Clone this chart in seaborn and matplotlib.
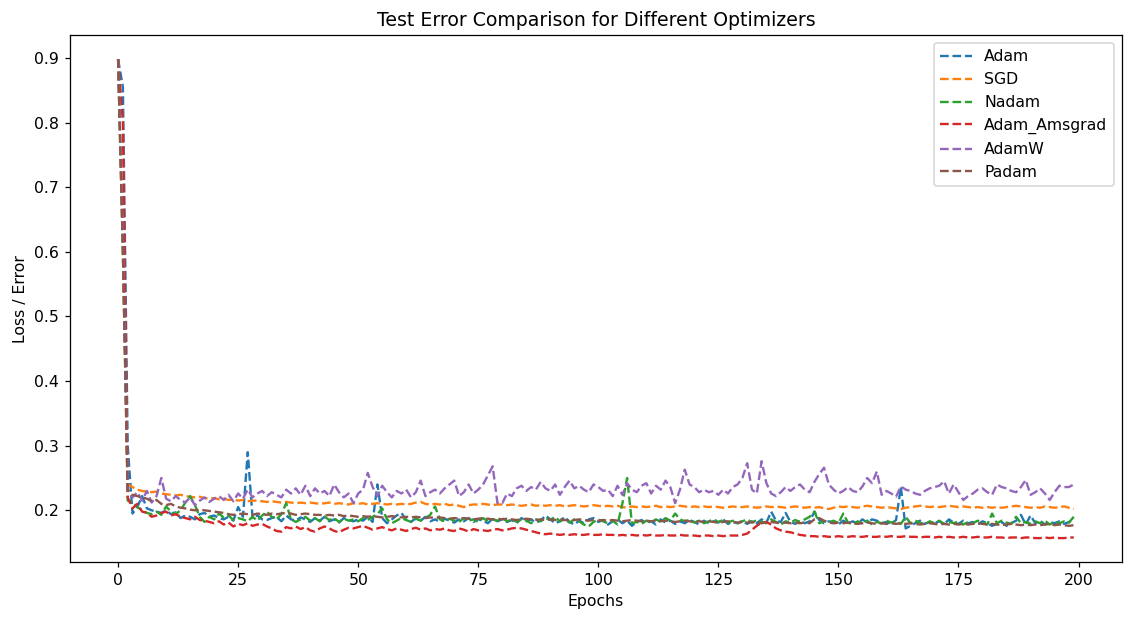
import numpy as np
import pandas as pd
import matplotlib
matplotlib.use("Agg")
import matplotlib.pyplot as plt
import seaborn as sns

epochs = list(range(200))

adam = [
    0.898, 0.855, 0.300, 0.195, 0.205, 0.222, 0.203, 0.200, 0.198, 0.196,
    0.200, 0.194, 0.197, 0.188, 0.192, 0.190, 0.186, 0.194, 0.196, 0.190,
    0.192, 0.188, 0.186, 0.190, 0.184, 0.205, 0.190, 0.290, 0.188, 0.192,
    0.186, 0.185, 0.188, 0.190, 0.183, 0.192, 0.186, 0.184, 0.189, 0.186,
    0.182, 0.188, 0.184, 0.190, 0.183, 0.186, 0.181, 0.188, 0.185, 0.183,
    0.186, 0.184, 0.190, 0.182, 0.240, 0.188, 0.180, 0.186, 0.192, 0.196,
    0.185, 0.182, 0.188, 0.184, 0.190, 0.183, 0.186, 0.182, 0.187, 0.184,
    0.181, 0.186, 0.183, 0.188, 0.182, 0.186, 0.184, 0.180, 0.187, 0.183,
    0.186, 0.182, 0.185, 0.180, 0.188, 0.183, 0.186, 0.181, 0.184, 0.192,
    0.186, 0.180, 0.183, 0.190, 0.182, 0.178, 0.184, 0.180, 0.186, 0.188,
    0.182, 0.185, 0.178, 0.183, 0.186, 0.180, 0.184, 0.176, 0.182, 0.185,
    0.180, 0.183, 0.178, 0.186, 0.181, 0.184, 0.179, 0.183, 0.180, 0.185,
    0.182, 0.178, 0.184, 0.180, 0.183, 0.181, 0.186, 0.179, 0.182, 0.180,
    0.184, 0.179, 0.183, 0.180, 0.186, 0.181, 0.198, 0.184, 0.182, 0.196,
    0.182, 0.179, 0.184, 0.180, 0.183, 0.198, 0.185, 0.180, 0.183, 0.181,
    0.178, 0.184, 0.180, 0.183, 0.179, 0.186, 0.181, 0.186, 0.184, 0.180,
    0.182, 0.179, 0.185, 0.236, 0.172, 0.176, 0.180, 0.184, 0.179, 0.182,
    0.180, 0.183, 0.178, 0.186, 0.181, 0.179, 0.184, 0.180, 0.182, 0.178,
    0.183, 0.180, 0.176, 0.179, 0.182, 0.176, 0.180, 0.184, 0.193, 0.178,
    0.192, 0.180, 0.184, 0.178, 0.182, 0.180, 0.183, 0.179, 0.182, 0.185,
]

sgd = [
    0.898, 0.600, 0.240, 0.236, 0.232, 0.230, 0.229, 0.228, 0.229, 0.226,
    0.225, 0.224, 0.223, 0.224, 0.222, 0.221, 0.220, 0.221, 0.219, 0.218,
    0.219, 0.217, 0.218, 0.216, 0.217, 0.215, 0.216, 0.214, 0.215, 0.215,
    0.214, 0.213, 0.214, 0.213, 0.212, 0.213, 0.212, 0.211, 0.212, 0.211,
    0.212, 0.211, 0.210, 0.211, 0.212, 0.210, 0.211, 0.210, 0.209, 0.211,
    0.210, 0.211, 0.209, 0.210, 0.211, 0.210, 0.209, 0.210, 0.209, 0.210,
    0.209, 0.210, 0.212, 0.213, 0.210, 0.209, 0.210, 0.209, 0.210, 0.208,
    0.209, 0.207, 0.205, 0.208, 0.209, 0.209, 0.210, 0.209, 0.208, 0.209,
    0.209, 0.208, 0.209, 0.208, 0.207, 0.208, 0.209, 0.207, 0.208, 0.207,
    0.208, 0.207, 0.208, 0.206, 0.207, 0.208, 0.207, 0.206, 0.207, 0.208,
    0.207, 0.206, 0.207, 0.206, 0.207, 0.205, 0.204, 0.206, 0.205, 0.206,
    0.205, 0.206, 0.207, 0.205, 0.206, 0.205, 0.206, 0.207, 0.206, 0.205,
    0.206, 0.205, 0.206, 0.205, 0.206, 0.205, 0.204, 0.205, 0.206, 0.205,
    0.205, 0.206, 0.205, 0.204, 0.205, 0.206, 0.205, 0.206, 0.205, 0.204,
    0.205, 0.206, 0.205, 0.204, 0.205, 0.204, 0.205, 0.203, 0.202, 0.204,
    0.206, 0.205, 0.206, 0.205, 0.204, 0.206, 0.207, 0.206, 0.205, 0.204,
    0.205, 0.204, 0.203, 0.202, 0.204, 0.205, 0.206, 0.207, 0.206, 0.205,
    0.206, 0.205, 0.206, 0.207, 0.206, 0.205, 0.206, 0.205, 0.204, 0.205,
    0.204, 0.205, 0.204, 0.205, 0.204, 0.205, 0.206, 0.207, 0.206, 0.205,
    0.204, 0.205, 0.204, 0.206, 0.205, 0.204, 0.205, 0.206, 0.204, 0.202,
]

nadam = [
    0.898, 0.600, 0.215, 0.212, 0.205, 0.200, 0.196, 0.194, 0.198, 0.193,
    0.206, 0.198, 0.194, 0.200, 0.212, 0.222, 0.208, 0.190, 0.182, 0.190,
    0.186, 0.195, 0.189, 0.192, 0.185, 0.188, 0.186, 0.183, 0.190, 0.184,
    0.192, 0.198, 0.190, 0.186, 0.194, 0.211, 0.186, 0.182, 0.186, 0.190,
    0.184, 0.188, 0.183, 0.190, 0.185, 0.188, 0.182, 0.187, 0.184, 0.186,
    0.183, 0.188, 0.185, 0.190, 0.194, 0.203, 0.186, 0.180, 0.184, 0.188,
    0.185, 0.182, 0.187, 0.184, 0.188, 0.193, 0.206, 0.186, 0.183, 0.187,
    0.184, 0.182, 0.188, 0.184, 0.186, 0.182, 0.188, 0.183, 0.186, 0.184,
    0.188, 0.183, 0.186, 0.182, 0.186, 0.184, 0.180, 0.186, 0.183, 0.188,
    0.185, 0.190, 0.183, 0.186, 0.181, 0.186, 0.183, 0.178, 0.175, 0.182,
    0.186, 0.183, 0.180, 0.184, 0.178, 0.210, 0.250, 0.180, 0.182, 0.179,
    0.184, 0.181, 0.186, 0.182, 0.188, 0.184, 0.195, 0.186, 0.183, 0.185,
    0.181, 0.184, 0.180, 0.183, 0.186, 0.182, 0.185, 0.181, 0.184, 0.180,
    0.183, 0.186, 0.181, 0.185, 0.182, 0.180, 0.186, 0.182, 0.178, 0.183,
    0.181, 0.185, 0.182, 0.186, 0.190, 0.198, 0.180, 0.183, 0.181, 0.184,
    0.180, 0.195, 0.181, 0.178, 0.183, 0.180, 0.184, 0.178, 0.182, 0.180,
    0.184, 0.181, 0.183, 0.179, 0.190, 0.180, 0.184, 0.181, 0.178, 0.183,
    0.180, 0.184, 0.179, 0.182, 0.180, 0.183, 0.178, 0.182, 0.180, 0.184,
    0.181, 0.178, 0.195, 0.180, 0.184, 0.181, 0.179, 0.190, 0.180, 0.182,
    0.179, 0.183, 0.180, 0.184, 0.178, 0.182, 0.180, 0.183, 0.181, 0.190,
]

amsgrad = [
    0.898, 0.800, 0.220, 0.203, 0.210, 0.198, 0.196, 0.190, 0.192, 0.196,
    0.198, 0.192, 0.194, 0.190, 0.188, 0.186, 0.190, 0.185, 0.184, 0.182,
    0.180, 0.183, 0.178, 0.181, 0.175, 0.179, 0.177, 0.180, 0.176, 0.178,
    0.179, 0.175, 0.172, 0.168, 0.167, 0.174, 0.172, 0.175, 0.171, 0.174,
    0.169, 0.167, 0.172, 0.175, 0.172, 0.168, 0.166, 0.170, 0.173, 0.172,
    0.174, 0.176, 0.173, 0.170, 0.172, 0.174, 0.171, 0.169, 0.172, 0.170,
    0.168, 0.171, 0.173, 0.170, 0.172, 0.169, 0.171, 0.170, 0.172, 0.169,
    0.168, 0.172, 0.170, 0.167, 0.171, 0.169, 0.169, 0.168, 0.170, 0.171,
    0.169, 0.170, 0.172, 0.173, 0.172, 0.170, 0.168, 0.166, 0.164, 0.163,
    0.164, 0.163, 0.162, 0.163, 0.162, 0.163, 0.162, 0.162, 0.163, 0.162,
    0.162, 0.163, 0.162, 0.162, 0.161, 0.162, 0.161, 0.162, 0.161, 0.162,
    0.161, 0.162, 0.161, 0.161, 0.162, 0.161, 0.161, 0.162, 0.161, 0.161,
    0.161, 0.160, 0.161, 0.161, 0.160, 0.161, 0.160, 0.161, 0.161, 0.161,
    0.162, 0.164, 0.170, 0.176, 0.181, 0.182, 0.178, 0.172, 0.169, 0.167,
    0.166, 0.164, 0.162, 0.161, 0.160, 0.160, 0.159, 0.160, 0.159, 0.159,
    0.160, 0.159, 0.159, 0.160, 0.159, 0.159, 0.160, 0.159, 0.159, 0.160,
    0.159, 0.160, 0.159, 0.159, 0.160, 0.159, 0.159, 0.158, 0.159, 0.159,
    0.158, 0.159, 0.158, 0.159, 0.158, 0.158, 0.159, 0.158, 0.158, 0.159,
    0.158, 0.158, 0.159, 0.158, 0.158, 0.157, 0.158, 0.158, 0.157, 0.158,
    0.158, 0.157, 0.157, 0.158, 0.157, 0.158, 0.157, 0.157, 0.158, 0.158,
]

adamw = [
    0.898, 0.620, 0.232, 0.220, 0.228, 0.215, 0.230, 0.212, 0.222, 0.250,
    0.218, 0.214, 0.222, 0.216, 0.212, 0.220, 0.208, 0.215, 0.220, 0.213,
    0.218, 0.222, 0.216, 0.224, 0.214, 0.226, 0.218, 0.232, 0.220, 0.226,
    0.230, 0.222, 0.228, 0.224, 0.220, 0.232, 0.226, 0.234, 0.224, 0.238,
    0.222, 0.234, 0.226, 0.230, 0.222, 0.240, 0.228, 0.220, 0.226, 0.211,
    0.226, 0.232, 0.258, 0.236, 0.222, 0.238, 0.228, 0.220, 0.230, 0.226,
    0.232, 0.220, 0.228, 0.246, 0.222, 0.228, 0.232, 0.226, 0.234, 0.240,
    0.246, 0.222, 0.228, 0.240, 0.226, 0.232, 0.240, 0.254, 0.268, 0.211,
    0.211, 0.226, 0.222, 0.234, 0.238, 0.230, 0.236, 0.232, 0.244, 0.234,
    0.230, 0.240, 0.224, 0.236, 0.246, 0.234, 0.238, 0.232, 0.228, 0.240,
    0.236, 0.230, 0.232, 0.222, 0.238, 0.224, 0.242, 0.232, 0.228, 0.238,
    0.242, 0.226, 0.238, 0.232, 0.246, 0.236, 0.211, 0.232, 0.263, 0.240,
    0.236, 0.228, 0.232, 0.228, 0.230, 0.224, 0.232, 0.226, 0.236, 0.240,
    0.250, 0.273, 0.232, 0.226, 0.276, 0.242, 0.226, 0.222, 0.228, 0.236,
    0.230, 0.236, 0.240, 0.232, 0.228, 0.244, 0.256, 0.266, 0.240, 0.232,
    0.226, 0.230, 0.236, 0.230, 0.228, 0.237, 0.250, 0.242, 0.260, 0.224,
    0.230, 0.226, 0.221, 0.237, 0.232, 0.230, 0.226, 0.224, 0.230, 0.234,
    0.236, 0.238, 0.245, 0.226, 0.240, 0.228, 0.216, 0.222, 0.226, 0.232,
    0.234, 0.228, 0.224, 0.240, 0.236, 0.234, 0.230, 0.228, 0.236, 0.247,
    0.224, 0.228, 0.234, 0.226, 0.216, 0.228, 0.238, 0.236, 0.236, 0.240,
]

padam = [
    0.898, 0.600, 0.232, 0.224, 0.222, 0.220, 0.218, 0.214, 0.216, 0.210,
    0.208, 0.210, 0.206, 0.204, 0.203, 0.201, 0.200, 0.201, 0.200, 0.199,
    0.198, 0.197, 0.196, 0.194, 0.193, 0.194, 0.195, 0.194, 0.193, 0.195,
    0.194, 0.193, 0.195, 0.194, 0.195, 0.196, 0.195, 0.193, 0.194, 0.195,
    0.194, 0.193, 0.193, 0.192, 0.193, 0.192, 0.193, 0.191, 0.192, 0.191,
    0.190, 0.191, 0.190, 0.191, 0.190, 0.189, 0.190, 0.191, 0.190, 0.189,
    0.190, 0.189, 0.190, 0.189, 0.188, 0.189, 0.188, 0.189, 0.188, 0.187,
    0.188, 0.187, 0.188, 0.187, 0.186, 0.187, 0.188, 0.187, 0.186, 0.187,
    0.186, 0.187, 0.186, 0.185, 0.186, 0.187, 0.186, 0.185, 0.186, 0.185,
    0.186, 0.185, 0.186, 0.185, 0.184, 0.185, 0.186, 0.185, 0.184, 0.185,
    0.184, 0.185, 0.184, 0.185, 0.184, 0.183, 0.184, 0.185, 0.184, 0.183,
    0.184, 0.183, 0.184, 0.183, 0.184, 0.183, 0.182, 0.183, 0.184, 0.183,
    0.182, 0.183, 0.182, 0.183, 0.182, 0.181, 0.182, 0.183, 0.182, 0.181,
    0.182, 0.181, 0.182, 0.181, 0.180, 0.181, 0.182, 0.181, 0.180, 0.181,
    0.180, 0.181, 0.180, 0.181, 0.180, 0.186, 0.188, 0.184, 0.181, 0.180,
    0.181, 0.180, 0.181, 0.180, 0.179, 0.180, 0.181, 0.180, 0.179, 0.180,
    0.179, 0.180, 0.179, 0.180, 0.179, 0.180, 0.179, 0.178, 0.179, 0.180,
    0.179, 0.178, 0.179, 0.178, 0.179, 0.178, 0.179, 0.178, 0.179, 0.180,
    0.179, 0.178, 0.179, 0.178, 0.177, 0.178, 0.179, 0.178, 0.177, 0.178,
    0.177, 0.178, 0.177, 0.178, 0.179, 0.177, 0.178, 0.177, 0.176, 0.177,
]

names = ["Adam", "SGD", "Nadam", "Adam_Amsgrad", "AdamW", "Padam"]
series = [adam, sgd, nadam, amsgrad, adamw, padam]

fig, ax = plt.subplots(figsize=(1134 / 113, 619 / 113), dpi=113)
fig.subplots_adjust(left=0.062, right=0.989, top=0.943, bottom=0.092)

colors = sns.color_palette("tab10", 6)
for name, vals, c in zip(names, series, colors):
    sns.lineplot(x=epochs, y=vals, ax=ax, label=name, color=c, linestyle="--", linewidth=1.5)

ax.set_title("Test Error Comparison for Different Optimizers")
ax.set_xlabel("Epochs")
ax.set_ylabel("Loss / Error")
ax.legend(loc="upper right")

plt.savefig("out.png", dpi=113)
